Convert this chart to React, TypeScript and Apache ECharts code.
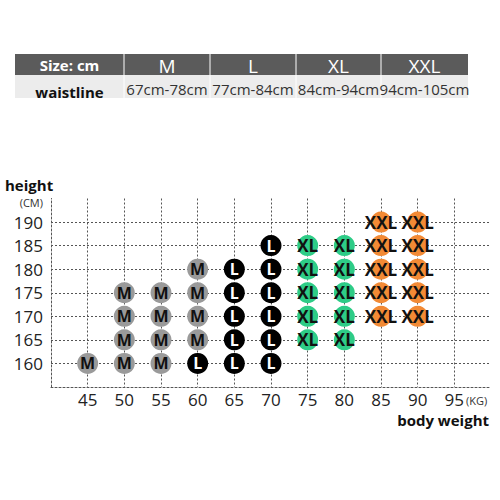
import { useEffect, useRef } from "react";
import * as echarts from "echarts";

// size chart table
const SIZE_LABELS = ["M", "L", "XL", "XXL"];
const WAISTLINE = ["67cm-78cm", "77cm-84cm", "84cm-94cm", "94cm-105cm"];

// [body weight kg, height cm]
const M_POINTS = [
  [45, 160],
  [50, 160], [50, 165], [50, 170], [50, 175],
  [55, 160], [55, 165], [55, 170], [55, 175],
  [60, 165], [60, 170], [60, 175], [60, 180],
];
const L_POINTS = [
  [60, 160],
  [65, 160], [65, 165], [65, 170], [65, 175], [65, 180],
  [70, 160], [70, 165], [70, 170], [70, 175], [70, 180], [70, 185],
];
const XL_POINTS = [
  [75, 165], [75, 170], [75, 175], [75, 180], [75, 185],
  [80, 165], [80, 170], [80, 175], [80, 180], [80, 185],
];
const XXL_POINTS = [
  [85, 170], [85, 175], [85, 180], [85, 185], [85, 190],
  [90, 170], [90, 175], [90, 180], [90, 185], [90, 190],
];

const FONT = "Open Sans";
const GRID_LINE = { color: "#555", width: 1, type: [2, 2] };

function tableGraphics() {
  const cols = [15, 124, 210, 296, 381, 468];
  const top = 54;
  const mid = 75;
  const bottom = 98;
  const els: any[] = [
    { type: "rect", shape: { x: cols[0], y: top, width: cols[5] - cols[0], height: mid - top }, style: { fill: "#5b5b5b" } },
    { type: "rect", shape: { x: cols[0], y: mid, width: cols[5] - cols[0], height: bottom - mid }, style: { fill: "#ececec" } },
    {
      type: "text",
      x: (cols[0] + cols[1]) / 2,
      y: (top + mid) / 2,
      style: { text: "Size: cm", fill: "#fff", font: `bold 15px ${FONT}`, align: "center", verticalAlign: "middle" },
    },
    {
      type: "text",
      x: (cols[0] + cols[1]) / 2,
      y: 92,
      style: { text: "waistline", fill: "#111", font: `bold 15px ${FONT}`, align: "center", verticalAlign: "middle" },
    },
  ];
  for (let i = 1; i < cols.length - 1; i++) {
    els.push({ type: "line", shape: { x1: cols[i], y1: top, x2: cols[i], y2: bottom }, style: { stroke: "#ffffff", lineWidth: 1 } });
  }
  SIZE_LABELS.forEach((s, i) => {
    const cx = (cols[i + 1] + cols[i + 2]) / 2;
    els.push({
      type: "text",
      x: cx,
      y: (top + mid) / 2 + 1,
      style: { text: s, fill: "#fff", font: `19px ${FONT}`, align: "center", verticalAlign: "middle" },
    });
    els.push({
      type: "text",
      x: cx,
      y: 89,
      style: { text: WAISTLINE[i], fill: "#333", font: `15px ${FONT}`, align: "center", verticalAlign: "middle" },
    });
  });
  els.push(
    { type: "text", x: 5, y: 185, style: { text: "height", fill: "#111", font: `bold 15px ${FONT}`, verticalAlign: "middle" } },
    { type: "text", x: 43, y: 202, style: { text: "(CM)", fill: "#333", font: `11px ${FONT}`, align: "right", verticalAlign: "middle" } },
    { type: "text", x: 466, y: 400, style: { text: "(KG)", fill: "#333", font: `11px ${FONT}`, verticalAlign: "middle" } },
    { type: "text", x: 489, y: 420, style: { text: "body weight", fill: "#111", font: `bold 15px ${FONT}`, align: "right", verticalAlign: "middle" } }
  );
  return els;
}

function sizeSeries(name: string, data: number[][], color: string, textColor: string, fontSize: number) {
  return {
    type: "scatter",
    name,
    data,
    symbol: "circle",
    symbolSize: 21,
    itemStyle: { color, opacity: 1 },
    label: {
      show: true,
      position: "inside",
      formatter: name,
      color: textColor,
      fontFamily: FONT,
      fontWeight: "bold",
      fontSize,
    },
    z: 3,
  };
}

export default function App() {
  const chartRef = useRef<HTMLDivElement>(null);

  useEffect(() => {
    if (!chartRef.current) return;
    const chart = echarts.init(chartRef.current, null, { renderer: "svg" });

    chart.setOption({
      animation: false,
      backgroundColor: "#fff",
      grid: { left: 51, right: 9, top: 198.5, bottom: 113 },
      xAxis: {
        type: "value",
        min: 40,
        max: 100,
        interval: 5,
        axisLine: { show: true, lineStyle: GRID_LINE },
        axisTick: { show: false },
        axisLabel: {
          color: "#222",
          fontFamily: FONT,
          fontSize: 17,
          margin: 4,
          formatter: (v: number) => (v === 40 || v === 100 ? "" : String(v)),
        },
        splitLine: { show: true, showMinLine: false, showMaxLine: false, lineStyle: GRID_LINE },
      },
      yAxis: {
        type: "value",
        min: 155,
        max: 195,
        interval: 5,
        axisLine: { show: true, lineStyle: GRID_LINE },
        axisTick: { show: false },
        axisLabel: {
          color: "#222",
          fontFamily: FONT,
          fontSize: 17,
          margin: 8,
          formatter: (v: number) => (v === 155 || v === 195 ? "" : String(v)),
        },
        splitLine: { show: true, showMinLine: false, showMaxLine: false, lineStyle: GRID_LINE },
      },
      graphic: tableGraphics(),
      series: [
        sizeSeries("M", M_POINTS, "#9a9a9a", "#111", 16),
        sizeSeries("L", L_POINTS, "#000000", "#ffffff", 16),
        sizeSeries("XL", XL_POINTS, "#2ecc87", "#111", 17),
        sizeSeries("XXL", XXL_POINTS, "#f28a35", "#111", 17),
      ],
    });

    return () => chart.dispose();
  }, []);

  return <div ref={chartRef} style={{ position: "absolute", left: 0, top: 0, width: 500, height: 500 }} />;
}
